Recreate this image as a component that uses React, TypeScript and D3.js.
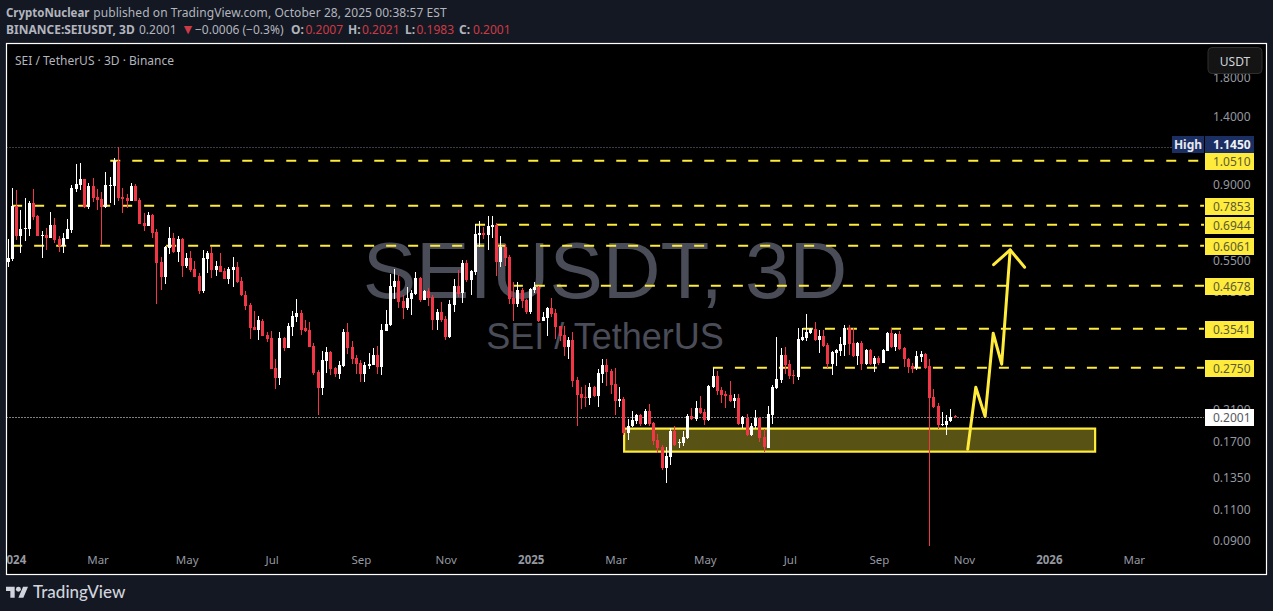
// SEIUSDT 3D candles, TradingView snapshot look
import { useEffect, useRef } from 'react'
import * as d3 from 'd3'

const W = 1273
const H = 611
const UI_FONT = '"Noto Sans", sans-serif'

const opens = [
  .546,.557,.784,.646,.676,.676,.800,.735,.646,.650,
  .637,.694,.633,.606,.633,.671,.875,.898,.933,.779,
  .892,.831,.820,.779,.892,.892,1.048,.831,.826,.810,
  .892,.815,.703,.689,.740,.662,.546,.495,.598,.637,
  .583,.633,.532,.560,.522,.498,.452,.557,.579,.518,
  .532,.515,.488,.518,.528,.482,.441,.414,.358,.351,
  .373,.340,.333,.275,.257,.333,.313,.358,.383,.392,
  .356,.351,.317,.268,.241,.287,.305,.275,.264,.278,
  .347,.315,.293,.284,.264,.278,.280,.299,.276,.349,
  .363,.464,.482,.424,.405,.430,.444,.491,.427,.452,
  .436,.375,.395,.378,.335,.414,.467,.447,.542,.485,
  .511,.650,.658,.650,.685,.694,.546,.602,.564,.433,
  .416,.455,.427,.395,.455,.464,.373,.380,.405,.392,
  .360,.340,.315,.329,.254,.232,.228,.226,.243,.229,
  .264,.280,.269,.248,.221,.225,.180,.188,.195,.203,
  .191,.208,.192,.172,.165,.144,.154,.183,.169,.169,
  .175,.201,.197,.212,.206,.196,.243,.261,.238,.232,
  .230,.221,.226,.191,.199,.178,.188,.199,.176,.164,
  .203,.241,.254,.299,.282,.263,.259,.329,.333,.345,
  .353,.329,.338,.319,.282,.303,.307,.319,.356,.323,
  .297,.323,.282,.309,.282,.293,.284,.307,.345,.315,
  .343,.313,.291,.278,.275,.295,.301,.278,.228,.214,
  .190,.190,.195,.2007,
]
const highs = [
  .633,.881,.869,.764,.826,.810,.875,.737,.667,.680,
  .754,.725,.646,.658,.721,.898,1.029,1.035,.935,.910,
  .939,.875,.858,.977,.945,1.069,1.145,.881,.847,.910,
  .904,.826,.750,.754,.745,.676,.564,.604,.685,.658,
  .646,.635,.579,.586,.550,.508,.590,.586,.602,.550,
  .579,.525,.528,.564,.546,.495,.452,.419,.398,.385,
  .378,.347,.349,.291,.347,.335,.368,.398,.430,.400,
  .375,.370,.323,.271,.307,.315,.307,.276,.287,.353,
  .368,.327,.299,.289,.285,.303,.313,.317,.365,.400,
  .505,.522,.502,.441,.464,.455,.511,.495,.455,.461,
  .441,.403,.422,.385,.427,.488,.518,.553,.553,.518,
  .698,.712,.685,.735,.735,.703,.646,.613,.572,.479,
  .479,.461,.430,.461,.479,.467,.395,.408,.433,.403,
  .361,.360,.335,.347,.259,.243,.246,.249,.244,.273,
  .291,.291,.273,.275,.243,.228,.197,.208,.204,.204,
  .211,.217,.194,.179,.167,.165,.186,.189,.173,.183,
  .204,.212,.221,.229,.211,.246,.275,.269,.243,.237,
  .252,.232,.232,.201,.204,.192,.209,.200,.185,.214,
  .246,.335,.313,.315,.289,.271,.356,.356,.390,.356,
  .370,.351,.351,.323,.307,.311,.335,.363,.363,.356,
  .325,.327,.310,.311,.297,.297,.310,.346,.356,.344,
  .349,.315,.292,.284,.307,.307,.303,.291,.240,.219,
  .206,.203,.211,.2021,
]
const lows = [
  .528,.549,.629,.579,.625,.646,.716,.645,.560,.590,
  .635,.617,.583,.579,.632,.658,.858,.869,.774,.769,
  .805,.764,.609,.774,.800,.790,.810,.750,.774,.809,
  .808,.697,.667,.688,.637,.416,.455,.473,.575,.579,
  .546,.495,.525,.511,.494,.444,.447,.508,.491,.498,
  .510,.487,.473,.464,.476,.438,.400,.331,.350,.329,
  .337,.325,.272,.240,.246,.307,.312,.338,.370,.340,
  .347,.314,.263,.203,.230,.266,.263,.259,.256,.277,
  .301,.282,.264,.251,.251,.273,.279,.264,.263,.348,
  .360,.430,.405,.378,.400,.387,.439,.422,.426,.411,
  .351,.351,.370,.329,.334,.395,.435,.419,.479,.441,
  .502,.602,.633,.590,.637,.498,.528,.532,.416,.373,
  .408,.405,.390,.390,.447,.370,.372,.338,.383,.331,
  .327,.297,.291,.243,.188,.211,.213,.216,.228,.213,
  .249,.244,.232,.203,.213,.178,.172,.187,.191,.189,
  .190,.189,.167,.158,.142,.130,.146,.166,.164,.166,
  .173,.196,.195,.204,.190,.195,.241,.230,.219,.212,
  .220,.212,.190,.186,.177,.177,.186,.170,.159,.163,
  .191,.240,.249,.264,.256,.248,.254,.327,.327,.343,
  .327,.303,.315,.275,.263,.278,.297,.297,.299,.295,
  .280,.271,.280,.280,.268,.280,.283,.306,.313,.307,
  .309,.276,.266,.266,.271,.285,.273,.0868,.212,.185,
  .189,.178,.194,.1983,
]
const closes = [
  .560,.784,.646,.676,.680,.800,.730,.646,.650,.637,
  .694,.629,.606,.637,.676,.881,.904,.933,.779,.892,
  .826,.815,.779,.898,.898,1.048,.826,.820,.810,.892,
  .810,.698,.689,.740,.658,.542,.495,.602,.637,.583,
  .633,.532,.560,.518,.495,.452,.560,.579,.518,.532,
  .511,.488,.522,.528,.479,.439,.411,.356,.351,.375,
  .338,.331,.273,.257,.333,.313,.360,.385,.392,.351,
  .349,.315,.266,.241,.289,.305,.273,.264,.280,.347,
  .313,.291,.282,.264,.280,.282,.299,.276,.351,.365,
  .467,.482,.422,.405,.433,.447,.491,.427,.452,.433,
  .375,.395,.375,.335,.416,.467,.444,.542,.485,.515,
  .654,.658,.650,.689,.694,.546,.602,.560,.430,.416,
  .455,.424,.395,.458,.464,.373,.383,.405,.390,.358,
  .338,.315,.329,.252,.230,.226,.226,.243,.229,.266,
  .280,.268,.246,.221,.225,.180,.189,.196,.203,.191,
  .208,.191,.171,.164,.144,.155,.183,.167,.170,.176,
  .201,.197,.212,.205,.196,.244,.261,.237,.230,.229,
  .221,.226,.191,.200,.178,.189,.199,.175,.165,.204,
  .243,.256,.299,.280,.261,.261,.331,.335,.347,.353,
  .329,.338,.317,.282,.305,.309,.321,.356,.321,.297,
  .323,.282,.309,.282,.293,.284,.309,.345,.315,.343,
  .311,.291,.276,.273,.297,.301,.275,.226,.213,.190,
  .191,.195,.200,.2001,
]

// horizontal levels: price and the bar where the drawn line starts
const levelPrices = [1.051, .7853, .6944, .6061, .4678, .3541, .275]
const levelStarts = [24, 0.9, 109.9, 0.9, 118.8, 187.1, 165.9]

const priceTicks = [1.8, 1.4, .9, .55, .45, .21, .17, .135, .11, .09]
const timeTickBars = [1, 21, 42, 62, 83, 103, 123, 143, 164, 184, 205, 225, 245, 265]
const timeTickLabels = ['2024', 'Mar', 'May', 'Jul', 'Sep', 'Nov', '2025', 'Mar', 'May', 'Jul', 'Sep', 'Nov', '2026', 'Mar']

const HIGH_PRICE = 1.145
const LAST_PRICE = 0.2001

// O H L C readout of the last bar
const ohlcKeys = ['O:', 'H:', 'L:', 'C:']
const ohlcValues = ['0.2007', '0.2021', '0.1983', '0.2001']

// support box
const zonePrices = [.1854, .1597]
const zoneBars = [145, 255.9]

// projected path drawn on the chart (bar, price)
const pathBars = [225.9, 227.8, 230, 231.9, 233.9, 235.9]
const pathPrices = [.1623, .2424, .2004, .3438, .2813, .5896]
const headBars = [232, 235.9, 239.3]
const headPrices = [.536, .5896, .527]

const FRAME = { left: 6.5, top: 43.5, right: 1266.5, bottom: 574.5 }
const PLOT_RIGHT = 1204
const OHLC_KEY_X = [291, 348, 405, 459]
const OHLC_VAL_X = [305.5, 362, 416.5, 473]
const C = {
  bg: '#141823', up: '#ffffff', down: '#f23645', yellow: '#ffeb3b',
  axis: '#9598a1', head: '#b2b5be', value: '#cc3b45', blue: '#1b2f63',
}

export default function App() {
  const svgRef = useRef<SVGSVGElement>(null)

  useEffect(() => {
    const svg = d3.select(svgRef.current)
    svg.selectAll('*').remove()

    const x = d3.scaleLinear().domain([0, 223]).range([8.33, 955.4])
    const y = d3.scaleLog().domain([1.4, .09]).range([116.4, 540.2])
    const snap = (i: number) => Math.floor(x(i) - 0.2)

    svg.append('rect').attr('width', W).attr('height', H).attr('fill', C.bg)

    // ── 헤더 ──
    const head = svg.append('g').attr('font-family', UI_FONT).attr('font-size', 12).attr('fill', C.head)
    head.append('text').attr('x', 6).attr('y', 17).attr('font-weight', 700)
      .attr('textLength', 83.5).attr('lengthAdjust', 'spacingAndGlyphs').text('CryptoNuclear')
    head.append('text').attr('x', 93.3).attr('y', 17)
      .attr('textLength', 353.4).text('published on TradingView.com, October 28, 2025 00:38:57 EST')
    const l2 = head.append('text').attr('y', 34)
    l2.append('tspan').attr('x', 6).attr('font-weight', 700).text('BINANCE:SEIUSDT, 3D')
    l2.append('tspan').attr('x', 139).text('0.2001')
    l2.append('tspan').attr('x', 181).attr('font-size', 14).attr('fill', C.value).text('▼')
    l2.append('tspan').attr('x', 195).text('−0.0006 (−0.3%)')
    ohlcKeys.forEach((k, i) => {
      l2.append('tspan').attr('x', OHLC_KEY_X[i]).attr('font-weight', 700).text(k)
      l2.append('tspan').attr('x', OHLC_VAL_X[i]).attr('fill', C.value).text(ohlcValues[i])
    })

    // ── 차트 영역 ──
    svg.append('rect')
      .attr('x', FRAME.left).attr('y', FRAME.top)
      .attr('width', FRAME.right - FRAME.left).attr('height', FRAME.bottom - FRAME.top)
      .attr('fill', '#000')

    svg.append('clipPath').attr('id', 'plot').append('rect')
      .attr('x', FRAME.left).attr('y', FRAME.top)
      .attr('width', FRAME.right - FRAME.left).attr('height', FRAME.bottom - FRAME.top)

    const g = svg.append('g').attr('clip-path', 'url(#plot)')

    // 워터마크
    g.append('text').attr('x', 605).attr('y', 298).attr('text-anchor', 'middle')
      .attr('font-family', '"Liberation Sans", sans-serif').attr('font-size', 80)
      .attr('fill', '#4a4d58').text('SEIUSDT, 3D')
    g.append('text').attr('x', 605).attr('y', 349).attr('text-anchor', 'middle')
      .attr('font-family', '"Liberation Sans", sans-serif').attr('font-size', 36)
      .attr('fill', '#4a4d58').text('SEI / TetherUS')

    g.append('text').attr('x', 15).attr('y', 65)
      .attr('font-family', UI_FONT).attr('font-size', 12).attr('fill', C.head)
      .text('SEI / TetherUS · 3D · Binance')

    // high / last dotted lines
    g.append('line').attr('x1', FRAME.left).attr('x2', PLOT_RIGHT)
      .attr('y1', Math.round(y(HIGH_PRICE)) + .5).attr('y2', Math.round(y(HIGH_PRICE)) + .5)
      .attr('stroke', '#787b86').attr('stroke-dasharray', '1 2')
    g.append('line').attr('x1', FRAME.left).attr('x2', PLOT_RIGHT)
      .attr('y1', Math.round(y(LAST_PRICE)) + .5).attr('y2', Math.round(y(LAST_PRICE)) + .5)
      .attr('stroke', '#ffffff').attr('stroke-dasharray', '1 2')

    // 레벨 점선
    levelPrices.forEach((p, i) => {
      g.append('line')
        .attr('x1', x(levelStarts[i])).attr('x2', PLOT_RIGHT)
        .attr('y1', y(p)).attr('y2', y(p))
        .attr('stroke', C.yellow).attr('stroke-width', 2)
        .attr('stroke-dasharray', '10 12')
    })

    // 지지 구간 박스
    g.append('rect')
      .attr('x', x(zoneBars[0])).attr('y', y(zonePrices[0]))
      .attr('width', x(zoneBars[1]) - x(zoneBars[0]))
      .attr('height', y(zonePrices[1]) - y(zonePrices[0]))
      .attr('fill', C.yellow).attr('fill-opacity', .35)
      .attr('stroke', C.yellow).attr('stroke-width', 2.2)

    // ── 캔들 ──
    const candles = g.append('g').attr('shape-rendering', 'crispEdges')
    opens.forEach((o, i) => {
      const c = closes[i]
      const col = c >= o ? C.up : C.down
      const px = snap(i)
      const top = Math.round(y(Math.max(o, c)))
      const bot = Math.round(y(Math.min(o, c)))
      const hi = Math.round(y(highs[i]))
      const lo = Math.round(y(lows[i]))
      candles.append('rect').attr('x', px).attr('y', hi).attr('width', 1).attr('height', Math.max(1, lo - hi)).attr('fill', col)
      candles.append('rect').attr('x', px - 1).attr('y', top).attr('width', 3).attr('height', Math.max(1, bot - top)).attr('fill', col)
    })

    // 화살표
    const pathLine = d3.line<[number, number]>().x((d) => x(d[0])).y((d) => y(d[1]))
    g.append('path').attr('d', pathLine(pathBars.map((b, i) => [b, pathPrices[i]] as [number, number])))
      .attr('fill', 'none').attr('stroke', C.yellow).attr('stroke-width', 3)
      .attr('stroke-linejoin', 'round').attr('stroke-linecap', 'round')
    g.append('path').attr('d', pathLine(headBars.map((b, i) => [b, headPrices[i]] as [number, number])))
      .attr('fill', 'none').attr('stroke', C.yellow).attr('stroke-width', 3)
      .attr('stroke-linejoin', 'round').attr('stroke-linecap', 'round')

    // ── X 축 ──
    const xAxis = g.append('g').attr('transform', 'translate(0,553)')
      .call(d3.axisBottom(x).tickValues(timeTickBars).tickSize(0)
        .tickFormat((_, i) => timeTickLabels[i]))
    xAxis.select('.domain').remove()
    xAxis.selectAll('text')
      .attr('font-family', UI_FONT).attr('font-size', 11.5).attr('fill', C.axis).attr('dy', '0.7em')
      .attr('font-weight', (_, i) => (/^20/.test(timeTickLabels[i]) ? 700 : 400))

    // ── Y 축 ──
    const yAxis = g.append('g').attr('transform', 'translate(1213,0)')
      .call(d3.axisRight(y).tickValues(priceTicks).tickSize(0).tickFormat(d3.format('.4f')))
    yAxis.select('.domain').remove()
    yAxis.selectAll('text')
      .attr('x', 0).attr('font-family', UI_FONT).attr('font-size', 12).attr('fill', C.axis)

    // ── 가격 라벨 ──
    const tag = (price: number, label: string, fill: string, text: string, dy = 0, weight = 400) => {
      const cy = y(price) + dy
      g.append('rect').attr('x', 1205).attr('y', Math.round(cy) - 8).attr('width', 49).attr('height', 17).attr('fill', fill)
      g.append('text').attr('x', 1213).attr('y', Math.round(cy) + 4.5)
        .attr('font-family', UI_FONT).attr('font-size', 12).attr('font-weight', weight)
        .attr('fill', text).text(label)
    }
    levelPrices.forEach((p) => tag(p, p.toFixed(4), C.yellow, '#5c5a35'))
    tag(LAST_PRICE, LAST_PRICE.toFixed(4), '#ffffff', '#555861')

    // High 라벨
    const hy = Math.round(y(HIGH_PRICE)) - 3
    g.append('rect').attr('x', 1172).attr('y', hy - 8).attr('width', 32).attr('height', 17).attr('fill', C.blue)
    g.append('text').attr('x', 1188).attr('y', hy + 4.5).attr('text-anchor', 'middle')
      .attr('font-family', UI_FONT).attr('font-size', 12).attr('font-weight', 700).attr('fill', '#e6e8ee').text('High')
    tag(HIGH_PRICE, HIGH_PRICE.toFixed(4), C.blue, '#f0f1f5', -3, 700)

    // 통화 버튼
    g.append('rect').attr('x', 1208).attr('y', 47.5).attr('width', 54).attr('height', 26).attr('rx', 4)
      .attr('fill', '#141414').attr('stroke', '#2e2e2e')
    g.append('text').attr('x', 1235).attr('y', 66).attr('text-anchor', 'middle')
      .attr('font-family', UI_FONT).attr('font-size', 12).attr('fill', '#d1d4dc').text('USDT')

    // 프레임
    svg.append('rect')
      .attr('x', FRAME.left).attr('y', FRAME.top)
      .attr('width', FRAME.right - FRAME.left).attr('height', FRAME.bottom - FRAME.top)
      .attr('fill', 'none').attr('stroke', '#ffffff').attr('stroke-width', 1.2)

    // ── 로고 ──
    const logo = svg.append('g').attr('fill', '#d1d4dc')
    logo.append('path').attr('transform', 'translate(6,584.2) scale(0.62)')
      .attr('d', 'M14 22H7V11H0V4h14v18zM28 22h-8l7.5-18h8L28 22z')
    logo.append('circle').attr('transform', 'translate(6,584.2) scale(0.62)')
      .attr('cx', 20).attr('cy', 8).attr('r', 4)
    logo.append('text').attr('x', 33).attr('y', 598)
      .attr('font-family', 'Lato, sans-serif').attr('font-size', 17).attr('font-weight', 500)
      .text('TradingView')
  }, [])

  return (
    <svg
      ref={svgRef}
      width={W}
      height={H}
      viewBox={`0 0 ${W} ${H}`}
      style={{ position: 'absolute', left: 0, top: 0, display: 'block' }}
    />
  )
}
